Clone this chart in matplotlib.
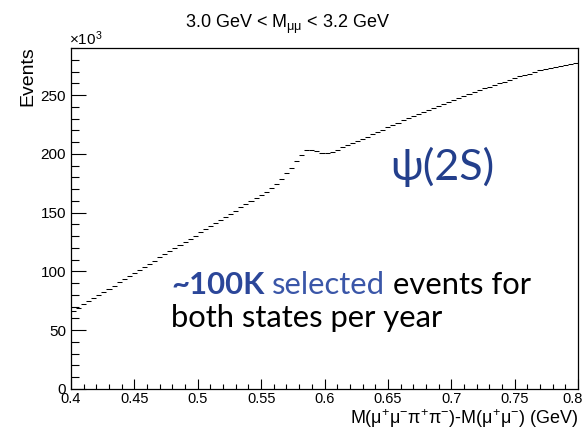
import matplotlib
matplotlib.use("Agg")
import matplotlib.pyplot as plt
import matplotlib.ticker as mticker
import matplotlib.transforms as mtransforms
import numpy as np

# Histogram: mass difference, 100 bins of 4 MeV between 0.4 and 0.8 GeV
bin_lo = 0.4
bin_hi = 0.8
n_bins = 100

# Events per bin, in units of 10^3
events_k = [
    66.6, 69.3, 72.0, 74.5, 77.3, 79.9, 82.7, 85.3, 87.8, 90.6,
    93.2, 95.9, 98.5, 101.3, 103.9, 106.4, 109.2, 111.9, 114.6, 117.2,
    119.7, 122.5, 125.2, 127.8, 130.4, 133.1, 135.9, 138.5, 141.0, 143.8,
    146.5, 149.1, 151.7, 154.4, 157.2, 159.7, 162.3, 165.1, 167.8, 170.6,
    174.5, 178.5, 183.3, 188.0, 193.5, 199.0, 203.0, 203.4, 202.0, 200.6,
    200.3, 201.9, 203.5, 205.4, 207.1, 208.9, 210.9, 212.8, 214.6, 216.7,
    218.8, 220.6, 222.6, 224.7, 226.4, 228.4, 230.3, 232.0, 233.9, 235.8,
    237.5, 239.1, 240.9, 242.7, 244.2, 246.0, 247.8, 249.3, 250.9, 252.4,
    254.1, 255.7, 257.1, 258.6, 260.2, 261.5, 262.8, 264.3, 265.8, 267.0,
    268.2, 269.6, 270.9, 272.0, 273.0, 274.1, 275.1, 275.9, 276.6, 277.6,
]

x_ticks = [0.4, 0.45, 0.5, 0.55, 0.6, 0.65, 0.7, 0.75, 0.8]
x_tick_labels = ["0.4", "0.45", "0.5", "0.55", "0.6", "0.65", "0.7", "0.75", "0.8"]
y_ticks = [0, 50, 100, 150, 200, 250]
y_tick_labels = ["0", "50", "100", "150", "200", "250"]

title_text = "3.0 GeV < M$_{\\mathrm{μμ}}$ < 3.2 GeV"
x_label = "M(μ$^{+}$μ$^{-}$π$^{+}$π$^{-}$)-M(μ$^{+}$μ$^{-}$) (GeV)"
y_label = "Events"

plt.rcParams["font.family"] = ["Liberation Sans", "DejaVu Sans"]
plt.rcParams["mathtext.fontset"] = "custom"
plt.rcParams["mathtext.rm"] = "Liberation Sans"
plt.rcParams["mathtext.it"] = "Liberation Sans"
plt.rcParams["mathtext.bf"] = "Liberation Sans:bold"

W, H = 585, 429
fig = plt.figure(figsize=(W / 100, H / 100), dpi=100)
ax_l, ax_r, ax_t, ax_b = 71, 578, 48, 389
ax = fig.add_axes([ax_l / W, 1 - ax_b / H, (ax_r - ax_l) / W, (ax_b - ax_t) / H])

edges = np.linspace(bin_lo, bin_hi, n_bins + 1)
vals = np.asarray(events_k)
ax.hlines(vals, edges[:-1], edges[1:], colors="black", linewidth=0.75)

ax.set_xlim(bin_lo, bin_hi)
ax.set_ylim(0, 290)

ax.set_xticks(x_ticks)
ax.set_xticklabels(x_tick_labels)
ax.set_yticks(y_ticks)
ax.set_yticklabels(y_tick_labels)
ax.xaxis.set_minor_locator(mticker.MultipleLocator(0.01))
ax.yaxis.set_minor_locator(mticker.MultipleLocator(10))

ax.tick_params(axis="x", which="major", direction="in", length=7, width=0.8,
               labelsize=10.5, pad=2.5, top=False)
ax.tick_params(axis="x", which="minor", direction="in", length=3.5, width=0.8, top=False)
ax.tick_params(axis="y", which="major", direction="in", length=11, width=0.8,
               labelsize=11, pad=3.5, right=False)
ax.tick_params(axis="y", which="minor", direction="in", length=5.5, width=0.8, right=False)
for s in ax.spines.values():
    s.set_linewidth(0.9)

# keep the last x tick label inside the canvas
last = ax.get_xticklabels()[-1]
last.set_transform(last.get_transform() +
                   mtransforms.ScaledTranslation(-5 / 100, 0, fig.dpi_scale_trans))

fig.text(ax_r / W, 1 - 424 / H, x_label, fontsize=13, ha="right", va="baseline")
fig.text(32 / W, 1 - 46 / H, y_label, fontsize=14, rotation=90, ha="right",
         va="baseline", rotation_mode="anchor")

fig.text(69 / W, 1 - 45 / H, "×10$^{3}$", fontsize=11, ha="left", va="baseline")
fig.text(288 / W, 1 - 28 / H, title_text, fontsize=13, ha="center", va="baseline")

# Overlay annotations
psi_color = "#233f8c"
fig.text(390 / W, 1 - 180 / H, "ψ(2S)", fontsize=31, family=["Lato", "DejaVu Sans"],
         color=psi_color, va="baseline")

fig.canvas.draw()
renderer = fig.canvas.get_renderer()

note_size = 22.3
probe = fig.text(0, 0, "a a", fontsize=note_size, family=["Lato"])
p2 = fig.text(0, 0, "aa", fontsize=note_size, family=["Lato"])
space_px = probe.get_window_extent(renderer).width - p2.get_window_extent(renderer).width
probe.remove()
p2.remove()


def chain(parts, x_px, y_px, size):
    x = x_px
    for txt, color, weight in parts:
        t = fig.text(x / W, 1 - y_px / H, txt, fontsize=size, color=color,
                     fontweight=weight, family=["Lato", "DejaVu Sans"], va="baseline")
        bb = t.get_window_extent(renderer)
        x = bb.x1 + space_px


chain([("~100K", "#2b4699", "bold"), ("selected", "#3a56a8", "normal"),
       ("events for", "black", "normal")], 171, 294, note_size)
chain([("both states per year", "black", "normal")], 171, 327, note_size)

fig.savefig("out.png", dpi=100)
